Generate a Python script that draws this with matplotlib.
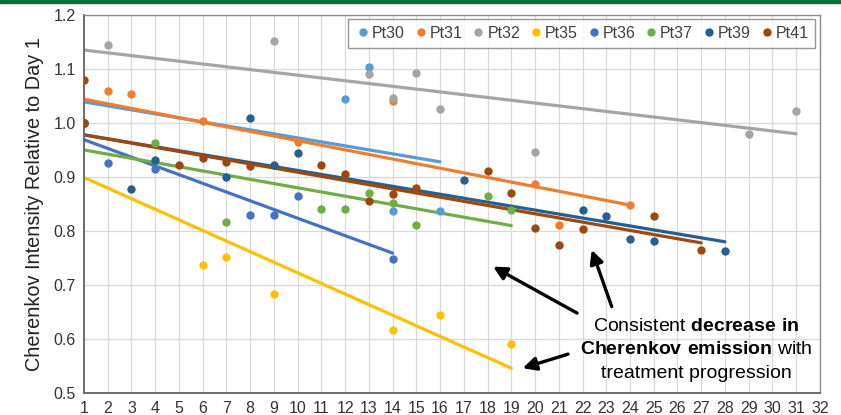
import numpy as np
import matplotlib
matplotlib.use("Agg")
from matplotlib import pyplot as plt
from matplotlib.patches import Rectangle

plt.rcParams['font.family'] = ['Liberation Sans', 'DejaVu Sans']
plt.rcParams['mathtext.fontset'] = 'custom'
plt.rcParams['mathtext.rm'] = 'Liberation Sans'
plt.rcParams['mathtext.bf'] = 'Liberation Sans:bold'

# Data
patients = ['Pt30', 'Pt31', 'Pt32', 'Pt35', 'Pt36', 'Pt37', 'Pt39', 'Pt41']
colors = ['#5B9BD5', '#ED7D31', '#A5A5A5', '#FFC000', '#4472C4', '#70AD47', '#255E91', '#9E480E']

days = {
    'Pt30': [1, 12, 13, 14, 16],
    'Pt31': [1, 2, 3, 6, 10, 14, 20, 21, 24],
    'Pt32': [1, 2, 9, 13, 14, 15, 16, 20, 29, 31],
    'Pt35': [1, 6, 7, 9, 14, 16, 19],
    'Pt36': [1, 2, 4, 8, 9, 10, 14],
    'Pt37': [1, 4, 7, 11, 12, 13, 14, 15, 18, 19],
    'Pt39': [1, 3, 4, 7, 8, 9, 10, 17, 22, 23, 24, 25, 28],
    'Pt41': [1, 1, 5, 6, 7, 8, 11, 12, 13, 14, 15, 18, 19, 20, 21, 22, 25, 27],
}
intensity = {
    'Pt30': [1.0, 1.044, 1.104, 0.837, 0.837],
    'Pt31': [1.0, 1.059, 1.054, 1.004, 0.965, 1.041, 0.887, 0.811, 0.848],
    'Pt32': [1.0, 1.144, 1.152, 1.091, 1.046, 1.093, 1.026, 0.946, 0.980, 1.022],
    'Pt35': [1.0, 0.737, 0.751, 0.683, 0.617, 0.644, 0.590],
    'Pt36': [1.0, 0.926, 0.915, 0.830, 0.830, 0.865, 0.749],
    'Pt37': [1.0, 0.962, 0.817, 0.840, 0.840, 0.871, 0.851, 0.811, 0.864, 0.838],
    'Pt39': [1.0, 0.878, 0.931, 0.900, 1.010, 0.923, 0.945, 0.894, 0.838, 0.828, 0.785, 0.781, 0.763],
    'Pt41': [1.0, 1.079, 0.923, 0.935, 0.927, 0.921, 0.922, 0.906, 0.856, 0.869, 0.880, 0.911,
             0.871, 0.806, 0.774, 0.803, 0.828, 0.765],
}
# linear trendline values at first and last day of each patient
trend_start = [1.039, 1.044, 1.135, 0.899, 0.969, 0.950, 0.978, 0.978]
trend_end = [0.928, 0.848, 0.980, 0.546, 0.759, 0.810, 0.780, 0.778]

fig = plt.figure(figsize=(8.41, 4.15), dpi=100)
ax = fig.add_axes([0.0999, 0.053, 0.875, 0.911])

for i, p in enumerate(patients):
    x = np.array(days[p])
    y = np.array(intensity[p])
    ax.plot(x, y, 'o', color=colors[i], markersize=5, label=p, zorder=3)
    ax.plot([x.min(), x.max()], [trend_start[i], trend_end[i]], '-', color=colors[i],
            lw=2.3, solid_capstyle='round', zorder=2 + i * 0.01)

ax.set_xlim(1, 32)
ax.set_ylim(0.5, 1.2)
ax.set_xticks(np.arange(1, 33))
ax.set_yticks(np.arange(0.5, 1.21, 0.1))
ax.set_yticklabels(['%.1f' % v for v in np.arange(0.5, 1.21, 0.1)])
ax.grid(True, color='#D9D9D9', lw=0.9, zorder=0)
ax.set_axisbelow(True)
ax.tick_params(length=0, labelsize=11.5, labelcolor='#333333', pad=6)
for s in ax.spines.values():
    s.set_color('#8C8C8C')
    s.set_linewidth(1)
ax.spines['left'].set_color('#6E6E6E')
ax.spines['bottom'].set_color('#6E6E6E')
ax.spines['left'].set_linewidth(1.4)
ax.spines['bottom'].set_linewidth(1.4)
ax.set_ylabel('Cherenkov Intensity Relative to Day 1', fontsize=14.3, color='#222222', labelpad=7)

leg = ax.legend(ncol=8, loc='upper right', bbox_to_anchor=(0.994, 0.99), borderaxespad=0,
                fontsize=11.5, handletextpad=0.05, columnspacing=0.5, handlelength=1.0,
                markerscale=1.0, frameon=True, fancybox=False, borderpad=0.45)
leg.get_frame().set_edgecolor('#7F7F7F')
leg.get_frame().set_linewidth(1)
for t in leg.get_texts():
    t.set_color('#404040')

# annotation
txt_x = 26.78
ax.text(txt_x, 0.624, r'Consistent $\mathbf{decrease\ in}$', ha='center', va='center', fontsize=14)
ax.text(txt_x, 0.580, r'$\mathbf{Cherenkov\ emission}$ with', ha='center', va='center', fontsize=14)
ax.text(txt_x, 0.537, 'treatment progression', ha='center', va='center', fontsize=14)

arrows = [((21.77, 0.648), (18.23, 0.734)),
          ((23.23, 0.660), (22.39, 0.765)),
          ((21.39, 0.572), (19.48, 0.546))]
for tail, head in arrows:
    ax.annotate('', xy=head, xytext=tail,
                arrowprops=dict(arrowstyle='-|>,head_length=0.8,head_width=0.4', color='black', lw=2.4,
                                shrinkA=0, shrinkB=0))

# green slide border at the top
fig.patches.append(Rectangle((0, 1 - 3 / 415), 1, 3 / 415, transform=fig.transFigure,
                             color='#0B6B3A', zorder=5))

fig.savefig('out.png', dpi=100)
